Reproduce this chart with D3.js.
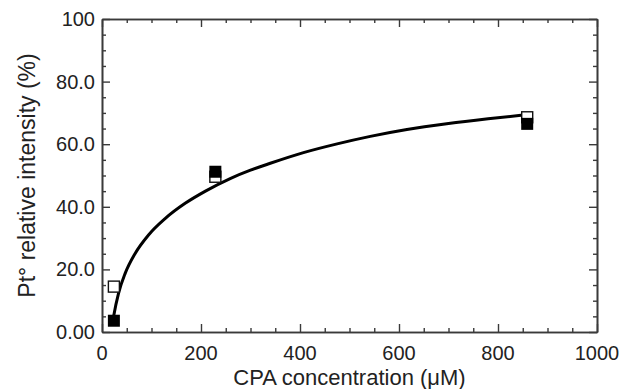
<!DOCTYPE html>
<html>
<head>
<meta charset="utf-8">
<script src="https://cdn.jsdelivr.net/npm/d3@7"></script>
<style>
  body { margin: 0; background: #fff; }
  svg { display: block; font-family: "Liberation Sans", Arial, sans-serif; }
</style>
</head>
<body>
<div id="chart"></div>
<script>
// values
const openX = [24, 229, 859];
const openY = [14.5, 49.6, 68.6];
const filledX = [24, 229, 859];
const filledY = [3.6, 51.2, 66.5];
const fitX = [22, 24, 33.5, 47, 67, 94, 128, 168, 209, 260, 300, 340, 407, 475, 542, 616, 700, 780, 851];
const fitY = [3.5, 5.4, 12.4, 18.8, 25.1, 31.0, 36.3, 41.1, 45.0, 49.1, 51.7, 53.9, 57.3, 60.1, 62.5, 64.7, 66.6, 68.1, 69.3];
const xTicks = [0, 200, 400, 600, 800, 1000];
const yTicks = [0, 20, 40, 60, 80, 100];
const yTickLabels = ['0.00', '20.0', '40.0', '60.0', '80.0', '100'];

function chart() {
    let margin = { top: 19, left: 102, right: 22, bottom: 57 },
        W = 619, H = 389,
        axisColor = '#3a3a3a';

    let svg = d3.select('#chart').append('svg')
        .attr('width', W)
        .attr('height', H);

    let x = d3.scaleLinear().domain([0, 1000]).range([margin.left, W - margin.right]);
    let y = d3.scaleLinear().domain([0, 100]).range([H - margin.bottom, margin.top]);

    let xMinor = d3.range(0, 1001, 50).filter(v => v % 200 !== 0);
    let yMinor = d3.range(0, 101, 5).filter(v => v % 20 !== 0);

    // frame with inward ticks on all four sides
    function drawAxis(axis, transform, ticks, size) {
        let g = svg.append('g')
            .attr('transform', transform)
            .call(axis.tickValues(ticks).tickSize(size).tickSizeOuter(0).tickFormat(''));
        g.select('.domain').attr('stroke', axisColor).attr('stroke-width', 1.6);
        g.selectAll('.tick line').attr('stroke', axisColor).attr('stroke-width', 1.4);
        return g;
    }
    let bottomY = `translate(0,${y(0)})`, topY = `translate(0,${y(100)})`;
    let leftX = `translate(${x(0)},0)`, rightX = `translate(${x(1000)},0)`;

    drawAxis(d3.axisBottom(x), bottomY, xTicks, -8);
    drawAxis(d3.axisBottom(x), bottomY, xMinor, -4);
    drawAxis(d3.axisTop(x), topY, xTicks, -8);
    drawAxis(d3.axisTop(x), topY, xMinor, -4);
    drawAxis(d3.axisLeft(y), leftX, yTicks, -8);
    drawAxis(d3.axisLeft(y), leftX, yMinor, -4);
    drawAxis(d3.axisRight(y), rightX, yTicks, -8);
    drawAxis(d3.axisRight(y), rightX, yMinor, -4);

    // tick labels
    svg.append('g').selectAll('text')
        .data(xTicks).enter()
        .append('text')
        .attr('x', d => x(d))
        .attr('y', y(0) + 28)
        .attr('text-anchor', 'middle')
        .attr('font-size', 20)
        .attr('fill', '#222')
        .text(d => d);

    svg.append('g').selectAll('text')
        .data(yTicks).enter()
        .append('text')
        .attr('x', x(0) - 7)
        .attr('y', d => y(d) + 7)
        .attr('text-anchor', 'end')
        .attr('font-size', 20)
        .attr('fill', '#222')
        .text((d, i) => yTickLabels[i]);

    // axis titles
    svg.append('text')
        .attr('x', (x(0) + x(1000)) / 2)
        .attr('y', H - 4)
        .attr('text-anchor', 'middle')
        .attr('font-size', 22)
        .attr('fill', '#222')
        .text('CPA concentration (\u03BCM)');

    svg.append('text')
        .attr('transform', `translate(35,${(y(0) + y(100)) / 2}) rotate(-90)`)
        .attr('text-anchor', 'middle')
        .attr('font-size', 23)
        .attr('fill', '#222')
        .text('Pt\u00B0 relative intensity (%)');

    // fitted curve
    let fit = fitX.map((v, i) => [v, fitY[i]]);
    let line = d3.line()
        .x(d => x(d[0]))
        .y(d => y(d[1]))
        .curve(d3.curveMonotoneX);
    svg.append('path')
        .datum(fit)
        .attr('fill', 'none')
        .attr('stroke', '#000')
        .attr('stroke-width', 3)
        .attr('d', line);

    // markers: open squares first, filled on top
    let s = 11;
    svg.append('g').selectAll('rect')
        .data(openX.map((v, i) => [v, openY[i]])).enter()
        .append('rect')
        .attr('x', d => x(d[0]) - s / 2)
        .attr('y', d => y(d[1]) - s / 2)
        .attr('width', s)
        .attr('height', s)
        .attr('fill', '#fff')
        .attr('stroke', '#111')
        .attr('stroke-width', 1.4);

    svg.append('g').selectAll('rect')
        .data(filledX.map((v, i) => [v, filledY[i]])).enter()
        .append('rect')
        .attr('x', d => x(d[0]) - (s + 1) / 2)
        .attr('y', d => y(d[1]) - (s + 1) / 2)
        .attr('width', s + 1)
        .attr('height', s + 1)
        .attr('fill', '#000');

    return chart;
}

chart();
</script>
</body>
</html>
